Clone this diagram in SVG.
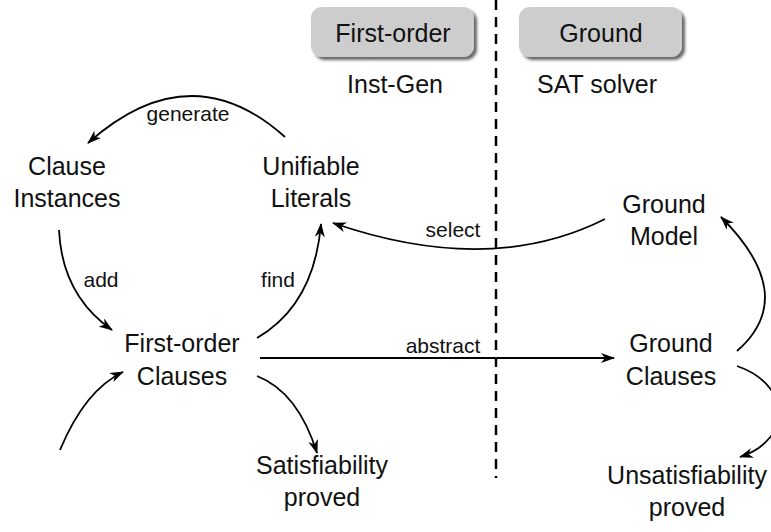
<svg xmlns="http://www.w3.org/2000/svg" width="771" height="532" viewBox="0 0 771 532">
<style>
text{font-family:"Liberation Sans",Arial,Helvetica,sans-serif;fill:#111;text-anchor:middle}
.n{font-size:25px}
.l{font-size:21px}
.hdr{fill:#cdcdcd}
.e{fill:none;stroke:#000;stroke-width:1.8;marker-end:url(#ah)}
</style>
<defs>
<marker id="ah" viewBox="0 0 14 10" refX="13" refY="5" markerWidth="14" markerHeight="10" markerUnits="userSpaceOnUse" orient="auto">
<path d="M0,0 L14,5 L0,10 L4,5 z" fill="#000"/>
</marker>
<filter id="sh" x="-20%" y="-30%" width="150%" height="180%">
<feGaussianBlur in="SourceAlpha" stdDeviation="1.8"/>
<feOffset dx="3" dy="3" result="b"/>
<feComponentTransfer><feFuncA type="linear" slope="0.6"/></feComponentTransfer>
<feMerge><feMergeNode/><feMergeNode in="SourceGraphic"/></feMerge>
</filter>
</defs>
<line x1="496" y1="0" x2="496" y2="478" stroke="#000" stroke-width="2.5" stroke-dasharray="10 7"/>
<g id="hdr-first-order">
<rect class="hdr" x="311" y="7" width="163" height="50" rx="11" filter="url(#sh)"/>
<text class="n" x="393" y="42">First-order</text>
<text class="n" x="395" y="93">Inst-Gen</text>
</g>
<g id="hdr-ground">
<rect class="hdr" x="519" y="7" width="163" height="50" rx="11" filter="url(#sh)"/>
<text class="n" x="601" y="42">Ground</text>
<text class="n" x="597" y="93">SAT solver</text>
</g>
<g id="clause-instances">
<text class="n" x="67" y="175">Clause</text>
<text class="n" x="67" y="207">Instances</text>
</g>
<g id="unifiable-literals">
<text class="n" x="311" y="175">Unifiable</text>
<text class="n" x="311" y="207">Literals</text>
</g>
<g id="ground-model">
<text class="n" x="664" y="213">Ground</text>
<text class="n" x="664" y="245">Model</text>
</g>
<g id="first-order-clauses">
<text class="n" x="182" y="352">First-order</text>
<text class="n" x="182" y="385">Clauses</text>
</g>
<g id="ground-clauses">
<text class="n" x="671" y="352">Ground</text>
<text class="n" x="671" y="385">Clauses</text>
</g>
<g id="sat-proved">
<text class="n" x="322" y="474">Satisfiability</text>
<text class="n" x="322" y="506">proved</text>
</g>
<g id="unsat-proved">
<text class="n" x="687" y="484">Unsatisfiability</text>
<text class="n" x="687" y="516">proved</text>
</g>
<g id="connectors">
<path class="e" d="M285,137 Q190,52 88,143"/>
<path class="e" d="M59,230 Q62,295 112,330"/>
<path class="e" d="M257,338 Q314,305 321,224"/>
<path class="e" d="M605,219 Q490,277 333,223"/>
<path class="e" d="M260,358 L614,358"/>
<path class="e" d="M737,351 Q800,296 721,217"/>
<path class="e" d="M737,366 C792,385 792,440 740,457"/>
<path class="e" d="M60,450 Q85,390 123,372"/>
<path class="e" d="M257,376 Q298,392 317,453"/>
<text class="l" x="188" y="121">generate</text>
<text class="l" x="101" y="287">add</text>
<text class="l" x="278" y="287">find</text>
<text class="l" x="453" y="237">select</text>
<text class="l" x="443" y="353">abstract</text>
</g>
</svg>
